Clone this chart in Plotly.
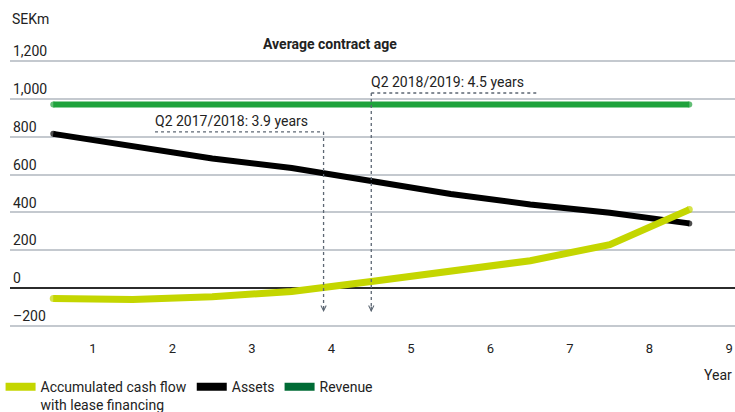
import plotly.graph_objects as go

# ---- data ----
years = [0.5, 1.5, 2.5, 3.5, 4.5, 5.5, 6.5, 7.5, 8.5]
cash_flow = [-55, -60, -45, -18, 35, 90, 145, 230, 415]
assets = [815, 748, 685, 635, 562, 497, 442, 398, 342]
revenue = [970, 970, 970, 970, 970, 970, 970, 970, 970]

contract_ages = [3.9, 4.5]
contract_labels = ["Q2 2017/2018: 3.9 years", "Q2 2018/2019: 4.5 years"]

x_tick_vals = [1, 2, 3, 4, 5, 6, 7, 8, 9]
y_tick_vals = [-200, 0, 200, 400, 600, 800, 1000, 1200]
y_tick_text = ["–200", "0", "200", "400", "600", "800", "1,000", "1,200"]

# ---- style ----
C_CASH = "#c4d600"
C_ASSET = "#000000"
C_REV = "#1fa23c"
C_REV_LEG = "#006b35"
C_DOT = "#5d6773"
FONT = "Roboto, 'DejaVu Sans', sans-serif"
TXT = "#222222"

def end_sizes(n, s):
    return [s] + [0] * (n - 2) + [s]

fig = go.Figure()

for name, ys, col, w in [("Revenue", revenue, C_REV, 6),
                         ("Assets", assets, C_ASSET, 6),
                         ("Cash", cash_flow, C_CASH, 7)]:
    fig.add_trace(go.Scatter(
        x=years, y=ys, mode="lines+markers",
        line=dict(color=col, width=w),
        marker=dict(color=col, size=end_sizes(len(years), w), line=dict(width=0)),
        showlegend=False, hoverinfo="skip"))

# legend-only entries
for name, col in [("Accumulated cash flow<br>with lease financing", C_CASH),
                  ("Assets", C_ASSET),
                  ("Revenue", C_REV_LEG)]:
    fig.add_trace(go.Scatter(x=[None], y=[None], mode="lines", name=name,
                             line=dict(color=col, width=8)))

shapes = []
annotations = []
label_y = [825, 1031]
label_x_start = [1.78, None]
label_x_end = [None, 6.6]
for i, age in enumerate(contract_ages):
    yl = label_y[i]
    if i == 0:
        x0, x1 = label_x_start[i], age
    else:
        x0, x1 = age, label_x_end[i]
    shapes.append(dict(type="line", xref="x", yref="y", x0=x0, x1=x1, y0=yl, y1=yl,
                       line=dict(color=C_DOT, width=1.3, dash="dot")))
    shapes.append(dict(type="line", xref="x", yref="y", x0=age, x1=age, y0=yl, y1=-122,
                       line=dict(color=C_DOT, width=1.3, dash="dot")))
    annotations.append(dict(x=age, y=-126, xref="x", yref="y", ax=0, ay=-7,
                            text="", showarrow=True, arrowhead=5, arrowsize=0.8,
                            arrowwidth=1.3, arrowcolor=C_DOT))
    annotations.append(dict(x=x0, y=yl, xref="x", yref="y", xanchor="left", yanchor="bottom",
                            text=contract_labels[i], showarrow=False, yshift=1,
                            xshift=-2, font=dict(size=14, color=TXT)))

annotations += [
    dict(x=0.441, y=0.973, xref="paper", yref="paper", text="<b>Average contract age</b>",
         showarrow=False, xanchor="center", yanchor="middle", font=dict(size=14, color=TXT)),
    dict(x=0, y=1.057, xref="paper", yref="paper", text="SEKm", showarrow=False,
         xanchor="left", yanchor="middle", font=dict(size=14, color=TXT)),
    dict(x=0.999, y=-0.145, xref="paper", yref="paper", text="Year", showarrow=False,
         xanchor="right", yanchor="middle", font=dict(size=14, color=TXT)),
]

fig.update_layout(
    width=735, height=412,
    margin=dict(l=10, r=0, t=36, b=80, autoexpand=False),
    paper_bgcolor="white", plot_bgcolor="white",
    font=dict(family=FONT, size=14, color=TXT),
    shapes=shapes, annotations=annotations,
    legend=dict(orientation="h", x=-0.013, xanchor="left", y=-0.132, yanchor="top",
                valign="top", font=dict(size=14, color=TXT), itemwidth=30,
                bgcolor="rgba(0,0,0,0)"),
    xaxis=dict(range=[-0.044, 9.075], tickvals=x_tick_vals, showgrid=False,
               zeroline=False, showline=False, ticks="outside", ticklen=4,
               tickcolor="rgba(0,0,0,0)", tickfont=dict(size=13, color=TXT)),
    yaxis=dict(range=[-231.7, 1332], tickvals=y_tick_vals, ticktext=y_tick_text,
               ticklabelposition="inside top", showgrid=True, gridcolor="#c4c9cf",
               gridwidth=1.5, zeroline=True, zerolinecolor="#2b2b2b", zerolinewidth=1.5,
               showline=False, ticks="", tickfont=dict(size=14, color=TXT)),
)

fig.write_html("out.html", config={"displayModeBar": False},
               post_script="document.body.style.margin='0';")
